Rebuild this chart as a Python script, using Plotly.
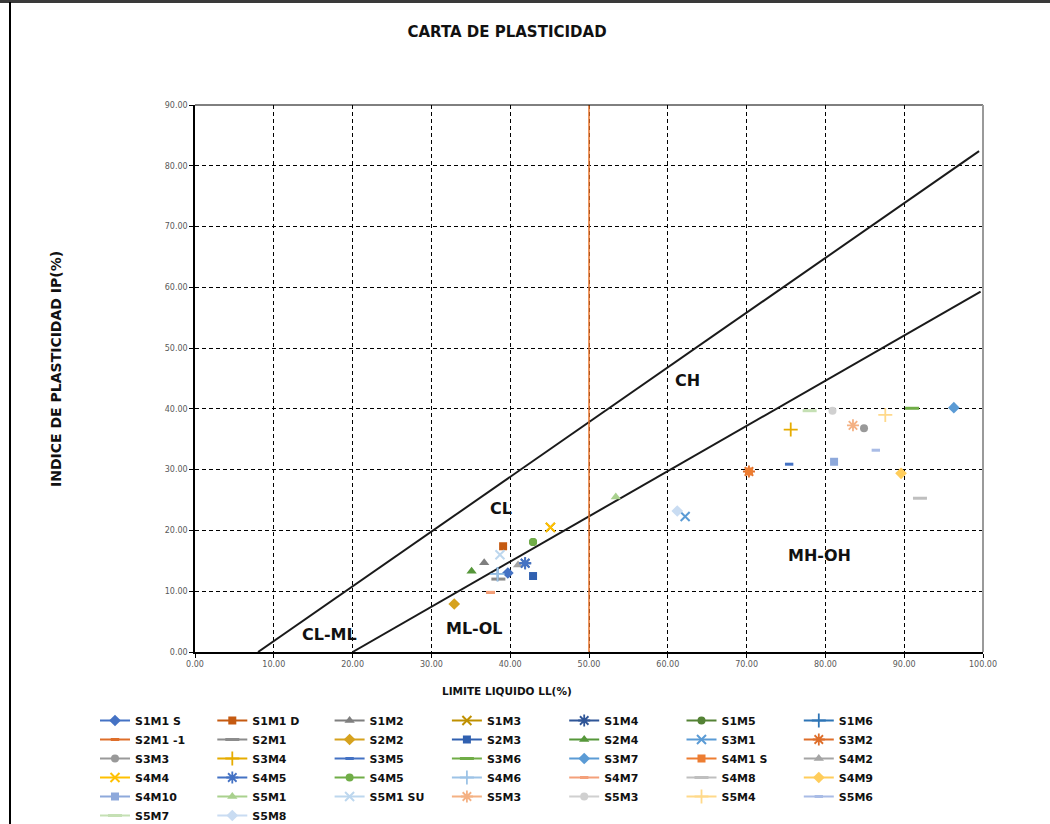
import plotly.graph_objects as go

# ---- sample data: liquid limit (LL) and plasticity index (IP) per sample ----
series_names = [
    "S1M1 S", "S1M1 D", "S1M2", "S1M3", "S1M4", "S1M5", "S1M6",
    "S2M1 -1", "S2M1", "S2M2", "S2M3", "S2M4", "S3M1", "S3M2",
    "S3M3", "S3M4", "S3M5", "S3M6", "S3M7", "S4M1 S", "S4M2",
    "S4M4", "S4M5", "S4M5", "S4M6", "S4M7", "S4M8", "S4M9",
    "S4M10", "S5M1", "S5M1 SU", "S5M3", "S5M3", "S5M4", "S5M6",
    "S5M7", "S5M8",
]
ll_values = [
    39.7, 39.1, 36.7, 45.1, 41.9, 42.9, 38.4,
    37.5, 38.5, 32.9, 42.9, 35.1, 62.2, 70.3,
    84.9, 75.6, 75.4, 91.0, 96.3, 70.3, 41.0,
    45.1, 41.9, 42.9, 38.4, 37.5, 92.0, 89.6,
    81.1, 53.4, 38.7, 83.5, 80.9, 87.6, 86.4,
    78.0, 61.2,
]
ip_values = [
    13.0, 17.4, 14.7, 20.5, 14.6, 18.1, 12.8,
    9.8, 12.0, 7.9, 12.5, 13.3, 22.3, 29.7,
    36.8, 36.6, 30.9, 40.1, 40.2, 29.7, 14.3,
    20.5, 14.6, 18.1, 12.8, 9.8, 25.3, 29.4,
    31.3, 25.5, 16.0, 37.3, 39.7, 39.0, 33.2,
    39.7, 23.2,
]
series_colors = [
    "#4472C4", "#C55A11", "#7F7F7F", "#BF9000", "#2F5597", "#548235", "#2E75B6",
    "#DE6E2A", "#8C8C8C", "#D6A21E", "#3060B0", "#56973A", "#5B9BD5", "#DE6E2A",
    "#999999", "#E6AC00", "#4472C4", "#70AD47", "#5B9BD5", "#ED7D31", "#A5A5A5",
    "#FFC000", "#4472C4", "#70AD47", "#9DC3E6", "#F4A07A", "#BFBFBF", "#FFCD5B",
    "#8EA9DB", "#A9D18E", "#BDD7EE", "#F4B183", "#D0D0D0", "#FFD98A", "#A9BCE6",
    "#C5E0B4", "#C9DCF2",
]
marker_cycle = ["diamond", "square", "triangle", "x", "star",
                "circle", "plus", "dash", "longdash"]

# ---- classification lines ----
u_line_ll = [8, 99.5]
u_line_ip = [0, 82.4]
a_line_ll = [20, 99.7]
a_line_ip = [0, 59.3]
ll50_ll = [50, 50]
ll50_ip = [0, 90]

zone_labels = ["CH", "CL", "CL-ML", "ML-OL", "MH-OH"]
zone_ll = [62.5, 38.8, 17.1, 35.5, 79.3]
zone_ip = [44.7, 23.6, 2.9, 3.8, 15.8]

tick_vals_x = [0, 10, 20, 30, 40, 50, 60, 70, 80, 90, 100]
tick_vals_y = [0, 10, 20, 30, 40, 50, 60, 70, 80, 90]

FONT = "DejaVu Sans"
W, H = 1050, 824
ML, MR, MT, MB = 195, 67, 105, 172
PW, PH = W - ML - MR, H - MT - MB


def px_to_paper_x(px):
    return (px - ML) / PW


def px_to_paper_y(py):
    return (H - MB - py) / PH


def marker_style(kind, color):
    base = dict(color=color, line=dict(color=color, width=0))
    if kind == "diamond":
        base.update(symbol="diamond", size=9)
    elif kind == "square":
        base.update(symbol="square", size=8)
    elif kind == "triangle":
        base.update(symbol="triangle-up", size=9)
    elif kind == "x":
        base.update(symbol="x-thin-open", size=9, line=dict(color=color, width=2))
    elif kind == "star":
        base.update(symbol="asterisk-open", size=10, line=dict(color=color, width=1.8))
    elif kind == "circle":
        base.update(symbol="circle", size=8)
    elif kind == "plus":
        base.update(symbol="cross-thin-open", size=10, line=dict(color=color, width=1.8))
    elif kind == "dash":
        base.update(symbol="line-ew-open", size=6, line=dict(color=color, width=3))
    else:
        base.update(symbol="line-ew-open", size=10, line=dict(color=color, width=3))
    return base


fig = go.Figure()

# reference lines
fig.add_trace(go.Scatter(x=u_line_ll, y=u_line_ip, mode="lines",
                         line=dict(color="#1a1a1a", width=2),
                         showlegend=False, hoverinfo="skip"))
fig.add_trace(go.Scatter(x=a_line_ll, y=a_line_ip, mode="lines",
                         line=dict(color="#1a1a1a", width=2),
                         showlegend=False, hoverinfo="skip"))
fig.add_trace(go.Scatter(x=ll50_ll, y=ll50_ip, mode="lines",
                         line=dict(color="#E8732A", width=1.5),
                         showlegend=False, hoverinfo="skip"))

# samples, legend laid out in 7 columns
N_COLS = 7
COL_STEP = 117.3
LEG_LEFT = 95
LEG_TOP = 706
for i, name in enumerate(series_names):
    col = i % N_COLS
    legend_id = "legend" if col == 0 else f"legend{col + 1}"
    kind = marker_cycle[i % len(marker_cycle)]
    color = series_colors[i]
    fig.add_trace(go.Scatter(
        x=[ll_values[i]], y=[ip_values[i]], name=name,
        mode="lines+markers",
        line=dict(color=color, width=2),
        marker=marker_style(kind, color),
        legend=legend_id,
    ))

legend_font = dict(family=FONT, size=11, color="#111111", weight="bold")
for col in range(N_COLS):
    key = "legend" if col == 0 else f"legend{col + 1}"
    fig.update_layout(**{key: dict(
        x=px_to_paper_x(LEG_LEFT + col * COL_STEP), xanchor="left",
        y=px_to_paper_y(LEG_TOP), yanchor="top",
        orientation="v", bgcolor="rgba(0,0,0,0)", borderwidth=0,
        font=legend_font, tracegroupgap=0,
    )})

# zone labels
for text, lx, ly in zip(zone_labels, zone_ll, zone_ip):
    fig.add_annotation(x=lx, y=ly, text=text, showarrow=False,
                       font=dict(family=FONT, size=16, color="#111111", weight="bold"))

# axis titles, placed relative to the whole chart area
fig.add_annotation(xref="paper", yref="paper",
                   x=px_to_paper_x(507), y=px_to_paper_y(691),
                   text="LIMITE LIQUIDO LL(%)", showarrow=False,
                   xanchor="center", yanchor="middle",
                   font=dict(family=FONT, size=10.5, color="#111111", weight="bold"))
fig.add_annotation(xref="paper", yref="paper",
                   x=px_to_paper_x(56), y=px_to_paper_y(369),
                   text="INDICE DE PLASTICIDAD IP(%)", showarrow=False,
                   textangle=-90, xanchor="center", yanchor="middle",
                   font=dict(family=FONT, size=14, color="#111111", weight="bold"))

grid_style = dict(showgrid=True, gridcolor="#000000", gridwidth=1, griddash="4px,3px")
tick_font = dict(family=FONT, size=8, color="#595959")

fig.update_xaxes(
    range=[0, 100], tickvals=tick_vals_x, tickformat=".2f",
    ticks="outside", ticklen=4, tickcolor="#000000", tickfont=tick_font,
    showline=True, linecolor="#000000", linewidth=1.5, zeroline=False,
    **grid_style,
)
fig.update_yaxes(
    range=[0, 90], tickvals=tick_vals_y, tickformat=".2f",
    ticks="outside", ticklen=4, tickcolor="#000000", tickfont=tick_font,
    showline=True, linecolor="#000000", linewidth=1.5, zeroline=False,
    **grid_style,
)

# frame: top and right edges of the plot area, chart-area border
fig.add_shape(type="line", xref="paper", yref="paper", x0=0, x1=1, y0=1, y1=1,
              line=dict(color="#000000", width=1))
fig.add_shape(type="line", xref="paper", yref="paper", x0=1, x1=1, y0=0, y1=1,
              line=dict(color="#9a9a9a", width=2))
fig.add_shape(type="line", xref="paper", yref="paper",
              x0=px_to_paper_x(0), x1=px_to_paper_x(W),
              y0=px_to_paper_y(1.5), y1=px_to_paper_y(1.5),
              line=dict(color="#3a3a3a", width=3))
fig.add_shape(type="line", xref="paper", yref="paper",
              x0=px_to_paper_x(10), x1=px_to_paper_x(10),
              y0=px_to_paper_y(2), y1=px_to_paper_y(H),
              line=dict(color="#000000", width=2))

fig.update_layout(
    width=W, height=H,
    margin=dict(l=ML, r=MR, t=MT, b=MB, autoexpand=False),
    paper_bgcolor="#ffffff", plot_bgcolor="#ffffff",
    title=dict(text="CARTA DE PLASTICIDAD", x=507 / W, xanchor="center",
               y=1 - 32 / H, yanchor="middle",
               font=dict(family=FONT, size=15, color="#111111", weight="bold")),
    showlegend=True,
)

fig.write_html("out.html")
